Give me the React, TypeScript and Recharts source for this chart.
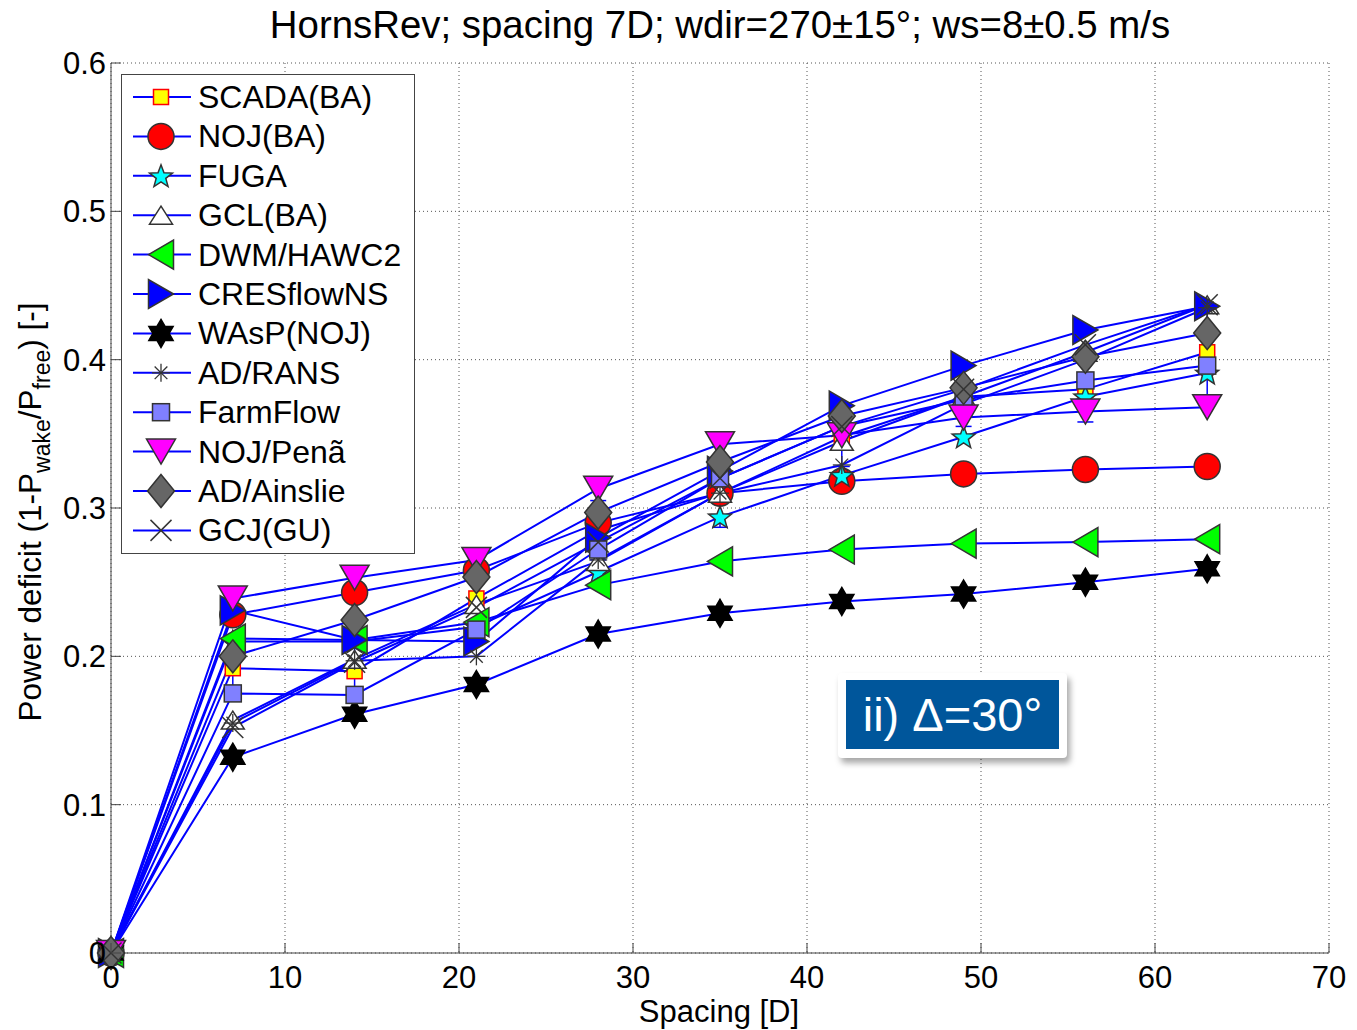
import React from 'react';
import { LineChart, Line, XAxis, YAxis, CartesianGrid, Legend, ErrorBar } from 'recharts';

const spacing = [0, 7, 14, 21, 28, 35, 42, 49, 56, 63];
const scadaBA = [0, 0.192, 0.19, 0.239, 0.285, 0.31, 0.348, 0.375, 0.38, 0.405];
const scadaErr = [0, 0.018, 0.016, 0.018, 0.02, 0.023, 0.02, 0.02, 0.022, 0.03];
const nojBA = [0, 0.228, 0.243, 0.258, 0.29, 0.31, 0.318, 0.323, 0.326, 0.328];
const fuga = [0, 0.21, 0.21, 0.22, 0.257, 0.294, 0.322, 0.348, 0.375, 0.391];
const gclBA = [0, 0.157, 0.198, 0.235, 0.264, 0.31, 0.345, 0.375, 0.405, 0.437];
const dwmHawc2 = [0, 0.212, 0.211, 0.223, 0.248, 0.264, 0.272, 0.276, 0.277, 0.279];
const cresflowNS = [0, 0.231, 0.211, 0.21, 0.28, 0.325, 0.369, 0.396, 0.42, 0.436];
const waspNOJ = [0, 0.132, 0.161, 0.181, 0.215, 0.229, 0.237, 0.242, 0.25, 0.259];
const adRans = [0, 0.155, 0.197, 0.2, 0.265, 0.31, 0.329, 0.37, 0.4, 0.435];
const farmFlow = [0, 0.175, 0.174, 0.218, 0.272, 0.32, 0.355, 0.373, 0.386, 0.396];
const nojPena = [0, 0.239, 0.253, 0.265, 0.313, 0.343, 0.349, 0.361, 0.365, 0.368];
const adAinslie = [0, 0.2, 0.2245, 0.2535, 0.297, 0.331, 0.362, 0.381, 0.402, 0.418];
const gcjGU = [0, 0.152, 0.196, 0.233, 0.277, 0.32, 0.355, 0.38, 0.41, 0.437];

const xTicks = [0, 10, 20, 30, 40, 50, 60, 70];
const yTicks = [0, 0.1, 0.2, 0.3, 0.4, 0.5, 0.6];

const FONT = '"Liberation Sans", Arial, sans-serif';
const EDGE = '#333333';
const AXIS = '#444444';
const TICK_LEN = 10;

type Kind =
  | 'square' | 'circle' | 'star5' | 'triUp' | 'triLeft' | 'triRight'
  | 'hexagram' | 'asterisk' | 'triDown' | 'diamond' | 'cross';

interface SeriesDef {
  key: string;
  name: string;
  values: number[];
  kind: Kind;
  fill: string;
  stroke: string;
  w: number;
  h: number;
}

const series: SeriesDef[] = [
  { key: 'scada', name: 'SCADA(BA)', values: scadaBA, kind: 'square', fill: '#ffff00', stroke: '#ff0000', w: 15, h: 15 },
  { key: 'nojba', name: 'NOJ(BA)', values: nojBA, kind: 'circle', fill: '#ff0000', stroke: EDGE, w: 26, h: 26 },
  { key: 'fuga', name: 'FUGA', values: fuga, kind: 'star5', fill: '#00ffff', stroke: EDGE, w: 24, h: 24 },
  { key: 'gcl', name: 'GCL(BA)', values: gclBA, kind: 'triUp', fill: '#ffffff', stroke: EDGE, w: 23, h: 18 },
  { key: 'dwm', name: 'DWM/HAWC2', values: dwmHawc2, kind: 'triLeft', fill: '#00ff00', stroke: EDGE, w: 29, h: 25 },
  { key: 'cres', name: 'CRESflowNS', values: cresflowNS, kind: 'triRight', fill: '#0000ff', stroke: EDGE, w: 29, h: 25 },
  { key: 'wasp', name: 'WAsP(NOJ)', values: waspNOJ, kind: 'hexagram', fill: '#000000', stroke: '#000000', w: 28, h: 28 },
  { key: 'adrans', name: 'AD/RANS', values: adRans, kind: 'asterisk', fill: 'none', stroke: EDGE, w: 18, h: 18 },
  { key: 'farm', name: 'FarmFlow', values: farmFlow, kind: 'square', fill: '#8080ff', stroke: EDGE, w: 17, h: 17 },
  { key: 'pena', name: 'NOJ/Penã', values: nojPena, kind: 'triDown', fill: '#ff00ff', stroke: EDGE, w: 29, h: 25 },
  { key: 'ainslie', name: 'AD/Ainslie', values: adAinslie, kind: 'diamond', fill: '#666666', stroke: EDGE, w: 27, h: 33 },
  { key: 'gcj', name: 'GCJ(GU)', values: gcjGU, kind: 'cross', fill: 'none', stroke: EDGE, w: 21, h: 21 },
];

const data = spacing.map((x, i) => {
  const row: Record<string, number> = { x, scadaErr: scadaErr[i] };
  series.forEach((s) => {
    row[s.key] = s.values[i];
  });
  return row;
});

function starPoints(cx: number, cy: number, n: number, R: number, r: number): string {
  const pts: string[] = [];
  for (let i = 0; i < 2 * n; i++) {
    const ang = -Math.PI / 2 + (i * Math.PI) / n;
    const rad = i % 2 === 0 ? R : r;
    pts.push(`${cx + rad * Math.cos(ang)},${cy + rad * Math.sin(ang)}`);
  }
  return pts.join(' ');
}

function Marker({ s, cx, cy }: { s: SeriesDef; cx: number; cy: number }) {
  const { kind, fill, stroke, w, h } = s;
  const sw = 1.5;
  switch (kind) {
    case 'square':
      return <rect x={cx - w / 2} y={cy - h / 2} width={w} height={h} fill={fill} stroke={stroke} strokeWidth={sw} />;
    case 'circle':
      return <circle cx={cx} cy={cy} r={w / 2} fill={fill} stroke={stroke} strokeWidth={sw} />;
    case 'star5':
      return <polygon points={starPoints(cx, cy + 1, 5, w / 2, (w / 2) * 0.42)} fill={fill} stroke={stroke} strokeWidth={sw} />;
    case 'hexagram':
      return <polygon points={starPoints(cx, cy, 6, w / 2, (w / 2) * 0.58)} fill={fill} stroke={stroke} strokeWidth={sw} />;
    case 'triUp':
      return <polygon points={`${cx},${cy - h / 2} ${cx + w / 2},${cy + h / 2} ${cx - w / 2},${cy + h / 2}`} fill={fill} stroke={stroke} strokeWidth={sw} />;
    case 'triDown':
      return <polygon points={`${cx},${cy + h / 2} ${cx + w / 2},${cy - h / 2} ${cx - w / 2},${cy - h / 2}`} fill={fill} stroke={stroke} strokeWidth={sw} />;
    case 'triLeft':
      return <polygon points={`${cx - h / 2},${cy} ${cx + h / 2},${cy - w / 2} ${cx + h / 2},${cy + w / 2}`} fill={fill} stroke={stroke} strokeWidth={sw} />;
    case 'triRight':
      return <polygon points={`${cx + h / 2},${cy} ${cx - h / 2},${cy - w / 2} ${cx - h / 2},${cy + w / 2}`} fill={fill} stroke={stroke} strokeWidth={sw} />;
    case 'diamond':
      return <polygon points={`${cx},${cy - h / 2} ${cx + w / 2},${cy} ${cx},${cy + h / 2} ${cx - w / 2},${cy}`} fill={fill} stroke={stroke} strokeWidth={sw} />;
    case 'asterisk': {
      const r = w / 2;
      const d = r * 0.707;
      return (
        <g stroke={stroke} strokeWidth={1.3}>
          <line x1={cx} y1={cy - r} x2={cx} y2={cy + r} />
          <line x1={cx - r} y1={cy} x2={cx + r} y2={cy} />
          <line x1={cx - d} y1={cy - d} x2={cx + d} y2={cy + d} />
          <line x1={cx - d} y1={cy + d} x2={cx + d} y2={cy - d} />
        </g>
      );
    }
    case 'cross': {
      const r = w / 2;
      return (
        <g stroke={stroke} strokeWidth={1.5}>
          <line x1={cx - r} y1={cy - r} x2={cx + r} y2={cy + r} />
          <line x1={cx - r} y1={cy + r} x2={cx + r} y2={cy - r} />
        </g>
      );
    }
    default:
      return null;
  }
}

function LegendBox() {
  const rowH = 39.4;
  return (
    <svg width={296} height={482} style={{ display: 'block' }}>
      <rect x={0.5} y={0.5} width={293} height={479} fill="#ffffff" stroke="#444444" strokeWidth={1} />
      {series.map((s, i) => {
        const cy = 23 + i * rowH;
        return (
          <g key={s.key}>
            <line x1={12} y1={cy} x2={70} y2={cy} stroke="#0000ff" strokeWidth={2} />
            <Marker s={s} cx={40} cy={cy} />
            <text x={77} y={cy + 11} fontSize={32} fontFamily={FONT} fill="#000">
              {s.name}
            </text>
          </g>
        );
      })}
    </svg>
  );
}

const fmtY = (v: number) => (v === 0 ? '0' : v.toFixed(1));

function BottomTick(p: any) {
  return (
    <g>
      <line x1={p.x} y1={p.y} x2={p.x} y2={p.y - TICK_LEN} stroke={AXIS} strokeWidth={1} />
      <text x={p.x} y={p.y + 13} dy="0.71em" textAnchor="middle" fontSize={31} fontFamily={FONT} fill="#000">
        {p.payload.value}
      </text>
    </g>
  );
}

function TopTick(p: any) {
  return <line x1={p.x} y1={p.y} x2={p.x} y2={p.y + TICK_LEN} stroke={AXIS} strokeWidth={1} />;
}

function LeftTick(p: any) {
  return (
    <g>
      <line x1={p.x} y1={p.y} x2={p.x + TICK_LEN} y2={p.y} stroke={AXIS} strokeWidth={1} />
      <text x={p.x - 5} y={p.y} dy="0.355em" textAnchor="end" fontSize={31} fontFamily={FONT} fill="#000">
        {fmtY(p.payload.value)}
      </text>
    </g>
  );
}

function RightTick(p: any) {
  return <line x1={p.x} y1={p.y} x2={p.x - TICK_LEN} y2={p.y} stroke={AXIS} strokeWidth={1} />;
}

export default function App() {
  const W = 1357;
  const H = 1030;
  return (
    <div style={{ position: 'absolute', left: 0, top: 0, width: W, height: H, background: '#fff' }}>
      <LineChart
        width={W}
        height={H}
        data={data}
        margin={{ top: 63, right: 28, left: 11, bottom: 17 }}
        style={{ fontFamily: FONT }}
      >
        <CartesianGrid stroke="#555555" strokeDasharray="1 3" strokeWidth={1} />
        <XAxis
          dataKey="x"
          type="number"
          domain={[0, 70]}
          ticks={xTicks}
          height={60}
          tickSize={0}
          tickMargin={0}
          tickLine={false}
          tick={BottomTick}
          stroke={AXIS}
        />
        <XAxis
          xAxisId="top"
          dataKey="x"
          type="number"
          orientation="top"
          domain={[0, 70]}
          ticks={xTicks}
          height={0}
          tickSize={0}
          tickMargin={0}
          tickLine={false}
          tick={TopTick}
          stroke={AXIS}
        />
        <YAxis
          type="number"
          domain={[0, 0.6]}
          ticks={yTicks}
          width={100}
          tickSize={0}
          tickMargin={0}
          tickLine={false}
          tick={LeftTick}
          stroke={AXIS}
        />
        <YAxis
          yAxisId="right"
          type="number"
          orientation="right"
          domain={[0, 0.6]}
          ticks={yTicks}
          width={0}
          tickSize={0}
          tickMargin={0}
          tickLine={false}
          tick={RightTick}
          stroke={AXIS}
        />
        {series.map((s) => (
          <Line
            key={s.key}
            dataKey={s.key}
            name={s.name}
            type="linear"
            stroke="#0000ff"
            strokeWidth={2}
            isAnimationActive={false}
            activeDot={false}
            dot={(p: any) => <Marker key={`${s.key}-${p.index}`} s={s} cx={p.cx} cy={p.cy} />}
          >
            {s.key === 'scada' ? (
              <ErrorBar dataKey="scadaErr" direction="y" width={8} stroke="#0000ff" strokeWidth={1.5} />
            ) : null}
          </Line>
        ))}
        <Legend
          layout="vertical"
          align="center"
          verticalAlign="middle"
          wrapperStyle={{ left: 121, top: 74, width: 296, height: 482 }}
          content={() => <LegendBox />}
        />
      </LineChart>
      <svg
        width={W}
        height={H}
        style={{ position: 'absolute', left: 0, top: 0, pointerEvents: 'none' }}
      >
        <text x={720} y={38} textAnchor="middle" fontSize={38.4} fontFamily={FONT} fill="#000">
          HornsRev; spacing 7D; wdir=270±15°; ws=8±0.5 m/s
        </text>
        <text x={719} y={1022} textAnchor="middle" fontSize={31} fontFamily={FONT} fill="#000">
          Spacing [D]
        </text>
        <text
          x={41}
          y={512}
          textAnchor="middle"
          fontSize={31.5}
          fontFamily={FONT}
          fill="#000"
          transform="rotate(-90, 41, 512)"
        >
          <tspan>Power deficit (1-P</tspan>
          <tspan fontSize={23} dy={9}>wake</tspan>
          <tspan dy={-9}>/P</tspan>
          <tspan fontSize={23} dy={9}>free</tspan>
          <tspan dy={-9}>) [-]</tspan>
        </text>
      </svg>
      <div
        style={{
          position: 'absolute',
          left: 838,
          top: 673,
          width: 229,
          height: 85,
          background: '#ffffff',
          borderRadius: 4,
          boxShadow: '3px 5px 6px rgba(0,0,0,0.35)',
        }}
      >
        <div
          style={{
            position: 'absolute',
            left: 8,
            top: 7,
            width: 213,
            height: 69,
            background: '#00569b',
            color: '#ffffff',
            fontFamily: FONT,
            fontSize: 47,
            lineHeight: '69px',
            textAlign: 'center',
          }}
        >
          ii) Δ=30°
        </div>
      </div>
    </div>
  );
}
